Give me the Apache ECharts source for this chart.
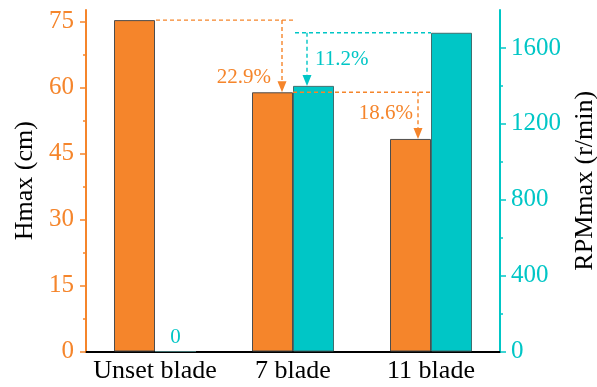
<!DOCTYPE html>
<html>
<head>
<meta charset="utf-8">
<script src="https://cdn.jsdelivr.net/npm/echarts@6/dist/echarts.min.js"></script>
<style>
html, body { margin: 0; padding: 0; background: #ffffff; }
#chart { width: 597px; height: 387px; }
</style>
</head>
<body>
<div id="chart"></div>
<script>
// Blade configurations and measured maxima
const categories = ['Unset blade', '7 blade', '11 blade'];
const hmaxValues = [75.3, 58.9, 48.3];      // Hmax (cm)
const rpmValues = [0, 1400, 1680];          // RPMmax (r/min)

// Axis ranges and tick positions
const hmaxMax = 77.6;
const rpmMax = 1800;
const hmaxTicks = [0, 15, 30, 45, 60, 75];
const hmaxMinorTicks = [7.5, 22.5, 37.5, 52.5, 67.5];
const rpmTicks = [0, 400, 800, 1200, 1600];
const rpmMinorTicks = [200, 600, 1000, 1400];

// Relative drops between configurations
const dropLabels = ['22.9%', '11.2%', '18.6%'];

const ORANGE = '#F5852B';
const TEAL = '#00C6C6';
const FONT = "'Liberation Serif', 'Times New Roman', serif";

const chart = echarts.init(document.getElementById('chart'), null, { renderer: 'canvas' });

const BAR_W = 41;

const option = {
  animation: false,
  backgroundColor: '#ffffff',
  grid: { left: 86, right: 97, top: 10, bottom: 35.5, containLabel: false, outerBoundsMode: 'none' },
  xAxis: [
    {
      type: 'category',
      data: categories,
      position: 'bottom',
      axisLine: { lineStyle: { color: '#000', width: 2 } },
      axisTick: { show: false },
      axisLabel: { color: '#000', fontFamily: FONT, fontSize: 26, margin: 7, interval: 0, hideOverlap: false },
      splitLine: { show: false }
    },
    {
      type: 'category',
      data: categories,
      position: 'top',
      axisLine: { lineStyle: { color: '#000', width: 2 } },
      axisTick: { show: false },
      axisLabel: { show: false },
      splitLine: { show: false }
    }
  ],
  yAxis: [
    {
      type: 'value',
      min: 0,
      max: hmaxMax,
      position: 'left',
      name: 'Hmax (cm)',
      nameLocation: 'middle',
      nameGap: 47,
      nameTextStyle: { color: '#000', fontFamily: FONT, fontSize: 26 },
      axisLine: { show: true, lineStyle: { color: ORANGE, width: 2 } },
      axisTick: { show: true, length: 6, customValues: hmaxTicks, lineStyle: { color: ORANGE, width: 1.5 } },
      axisLabel: { color: ORANGE, fontFamily: FONT, fontSize: 25, margin: 12, customValues: hmaxTicks, formatter: function (v) { return String(v); } },
      splitLine: { show: false }
    },
    {
      type: 'value',
      min: 0,
      max: rpmMax,
      position: 'right',
      name: 'RPMmax (r/min)',
      nameLocation: 'middle',
      nameGap: 71,
      nameTextStyle: { color: '#000', fontFamily: FONT, fontSize: 26 },
      axisLine: { show: true, lineStyle: { color: TEAL, width: 2 } },
      axisTick: { show: true, length: 6, customValues: rpmTicks, lineStyle: { color: TEAL, width: 1.5 } },
      axisLabel: { color: TEAL, fontFamily: FONT, fontSize: 25, margin: 11, customValues: rpmTicks, formatter: function (v) { return String(v); } },
      splitLine: { show: false }
    },
    {
      // minor ticks, left
      type: 'value',
      min: 0,
      max: hmaxMax,
      position: 'left',
      axisLine: { show: false },
      axisTick: { show: true, length: 3, customValues: hmaxMinorTicks, lineStyle: { color: ORANGE, width: 1.5 } },
      axisLabel: { show: false },
      splitLine: { show: false }
    },
    {
      // minor ticks, right
      type: 'value',
      min: 0,
      max: rpmMax,
      position: 'right',
      axisLine: { show: false },
      axisTick: { show: true, length: 3, customValues: rpmMinorTicks, lineStyle: { color: TEAL, width: 1.5 } },
      axisLabel: { show: false },
      splitLine: { show: false }
    }
  ],
  series: [
    {
      name: 'Hmax',
      type: 'bar',
      xAxisIndex: 0,
      yAxisIndex: 0,
      barWidth: BAR_W,
      barGap: '0%',
      data: hmaxValues,
      itemStyle: { color: ORANGE, borderColor: '#4d4d4d', borderWidth: 1 }
    },
    {
      name: 'RPMmax',
      type: 'bar',
      xAxisIndex: 0,
      yAxisIndex: 1,
      barWidth: BAR_W,
      barGap: '0%',
      data: rpmValues.map(function (v) {
        return v === 0
          ? { value: v, label: { show: true, position: 'top', distance: 3, color: TEAL, fontFamily: FONT, fontSize: 21, formatter: String(v) } }
          : v;
      }),
      itemStyle: { color: TEAL, borderColor: '#3f6f6f', borderWidth: 1 }
    }
  ]
};

chart.setOption(option);

// Drop annotations: dashed guide, arrow and percentage
function pt(yAxisIndex, cat, val) {
  return chart.convertToPixel({ xAxisIndex: 0, yAxisIndex: yAxisIndex }, [cat, val]);
}

function dashed(x1, y1, x2, y2, color) {
  return {
    type: 'line',
    shape: { x1: x1, y1: y1, x2: x2, y2: y2 },
    style: { stroke: color, lineWidth: 1.4, lineDash: [4, 3] },
    z: 100
  };
}

function arrow(x, tipY, color) {
  return {
    type: 'polygon',
    shape: { points: [[x - 4.5, tipY - 11], [x + 4.5, tipY - 11], [x, tipY]] },
    style: { fill: color },
    z: 101
  };
}

function label(x, y, text, color, align) {
  return {
    type: 'text',
    x: x,
    y: y,
    style: { text: text, fill: color, font: '21px ' + FONT, align: align, verticalAlign: 'middle' },
    z: 102
  };
}

const els = [];

// Unset blade -> 7 blade, Hmax
(function () {
  const a = pt(0, 0, hmaxValues[0]);
  const b = pt(0, 1, hmaxValues[1]);
  const vx = b[0] - 11;
  els.push(dashed(a[0] + 1, a[1], b[0], a[1], ORANGE));
  els.push(dashed(vx, a[1], vx, b[1] - 10, ORANGE));
  els.push(arrow(vx, b[1], ORANGE));
  els.push(label(b[0] - 22, b[1] - 15, dropLabels[0], ORANGE, 'right'));
})();

// 11 blade -> 7 blade, RPMmax
(function () {
  const a = pt(1, 2, rpmValues[2]);
  const b = pt(1, 1, rpmValues[1]);
  const vx = b[0] + 14;
  els.push(dashed(b[0] + 2, a[1], a[0], a[1], TEAL));
  els.push(dashed(vx, a[1], vx, b[1] - 10, TEAL));
  els.push(arrow(vx, b[1], TEAL));
  els.push(label(b[0] + 22, (a[1] + b[1]) / 2, dropLabels[1], TEAL, 'left'));
})();

// 7 blade -> 11 blade, Hmax
(function () {
  const a = pt(0, 1, hmaxValues[1]);
  const b = pt(0, 2, hmaxValues[2]);
  const vx = b[0] - 13;
  els.push(dashed(a[0], a[1], b[0], a[1], ORANGE));
  els.push(dashed(vx, a[1], vx, b[1] - 10, ORANGE));
  els.push(arrow(vx, b[1], ORANGE));
  els.push(label(b[0] - 18, b[1] - 25, dropLabels[2], ORANGE, 'right'));
})();

chart.setOption({ graphic: { elements: els } });
</script>
</body>
</html>
